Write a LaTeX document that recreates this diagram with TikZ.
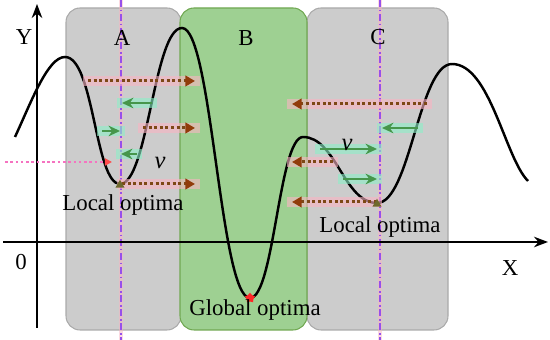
\documentclass[tikz,border=0pt]{standalone}
\usepackage{fontspec}
\setmainfont{Liberation Serif}
\usetikzlibrary{arrows.meta,shapes.geometric}
\definecolor{boxgray}{RGB}{204,204,204}
\definecolor{boxgrayline}{RGB}{170,170,170}
\definecolor{boxgreen}{RGB}{158,208,146}
\definecolor{boxgreenline}{RGB}{112,168,82}
\definecolor{optpurple}{RGB}{150,80,235}
\definecolor{movebrown}{RGB}{125,72,22}
\definecolor{tipbrown}{RGB}{145,60,10}
\definecolor{movegreen}{RGB}{70,150,75}
\definecolor{markpink}{RGB}{250,180,195}
\definecolor{markcyan}{RGB}{140,240,200}
\definecolor{optolive}{RGB}{110,105,45}
\tikzset{
  regionbox/.style={draw, line width=0.6pt, rounded corners=8pt},
  optline/.style={optpurple, line width=0.8pt, dash pattern=on 4pt off 1.5pt on 1pt off 1.5pt,
    preaction={draw=markpink, solid, line width=2.5pt, opacity=0.5}},
  brownmove/.style={movebrown, line width=1.7pt, dash pattern=on 1.7pt off 1.5pt,
    -{Triangle[length=5.5pt,width=6pt,color=tipbrown]},
    preaction={draw=markpink, -, solid, line cap=rect, line width=5.5pt, opacity=0.6}},
  greenmove/.style={movegreen, line width=1.4pt, -{Stealth[length=6.5pt,width=6pt]},
    preaction={draw=markcyan, -, line cap=rect, line width=5.5pt, opacity=0.6}},
  axisline/.style={line width=1.1pt, -{Stealth[length=8pt,width=6pt]}},
  optmark/.style={regular polygon, regular polygon sides=3, fill=optolive, inner sep=0pt, minimum size=6pt}
}
\begin{document}
\begin{tikzpicture}[x=0.02cm, y=0.02cm, font=\fontsize{13}{15}\selectfont]
    \useasboundingbox (0,0) rectangle (550,340);

    % regions
    \draw[regionbox, fill=boxgray, draw=boxgrayline] (66,10) rectangle (181,332);
    \draw[regionbox, fill=boxgray, draw=boxgrayline] (307,10) rectangle (448,332);
    \draw[regionbox, fill=boxgreen, draw=boxgreenline] (180,10) rectangle (307,332);

    % lines through the local optima
    \coordinate (topA) at (121,340);
    \coordinate (botA) at (121,0);
    \coordinate (topC) at (380,340);
    \coordinate (botC) at (380,0);
    \draw[optline] (topA) -- (botA);
    \draw[optline] (topC) -- (botC);

    % axes
    \coordinate (ylow) at (37,12);
    \coordinate (yhigh) at (37,336);
    \coordinate (xlow) at (3,98);
    \coordinate (xhigh) at (548,98);
    \draw[axisline] (ylow) -- (yhigh);
    \draw[axisline] (xlow) -- (xhigh);

    % fitness curve
    \draw[line width=1.4pt] (15,203) .. controls (32,240) and (48,283) .. (65,283)
        .. controls (94,283) and (95,156) .. (120,156)
        .. controls (148,156) and (154,312) .. (182,312)
        .. controls (212,312) and (220,42) .. (250,42)
        .. controls (274,42) and (279,203) .. (303,203)
        .. controls (336,203) and (344,137) .. (377,137)
        .. controls (410,137) and (419,276) .. (452,276)
        .. controls (490,276) and (505,182) .. (528,159);

    % moves towards B
    \foreach \n/\xs/\xe/\yy in {1/88/195/259, 2/143/195/212, 3/122/195/156,
                                4/427/292/236, 5/333/292/178, 6/377/292/138} {
        \coordinate (bs\n) at (\xs,\yy);
        \coordinate (be\n) at (\xe,\yy);
        \draw[brownmove] (bs\n) -- (be\n);
    }
    % moves inside A and C
    \foreach \n/\xs/\xe/\yy in {1/152/122/237, 2/102/120/209, 3/137/121/186,
                                4/418/382/212, 5/320/377/191, 6/343/377/161} {
        \coordinate (gs\n) at (\xs,\yy);
        \coordinate (ge\n) at (\xe,\yy);
        \draw[greenmove] (gs\n) -- (ge\n);
    }
    \coordinate (ps) at (5,178);
    \coordinate (pe) at (112,178);
    \draw[magenta!55, line width=1.3pt, dash pattern=on 1.5pt off 1.5pt,
        -{Triangle[length=4pt,width=4pt,color=red!70]}] (ps) -- (pe);

    % optima
    \node[optmark] (optA) at (120,155) {};
    \node[optmark] (optC) at (377,136) {};
    \node[star, star points=5, fill=red!85, inner sep=0pt, minimum size=6pt] (optB) at (250,42) {};

    % labels
    \node (labY) at (24,303) {Y};
    \node (labA) at (122,302) {A};
    \node (labB) at (246,302) {B};
    \node (labC) at (378,303) {C};
    \node (lab0) at (21,78) {0};
    \node (labX) at (510,72) {X};
    \node (locA) at (123,135) {Local optima};
    \node (locC) at (380,113) {Local optima};
    \node (glob) at (255,30) {Global optima};
    \node[font=\fontsize{14}{16}\selectfont\itshape] (vA) at (160,177) {v};
    \node[font=\fontsize{14}{16}\selectfont\itshape] (vC) at (347,195) {v};
\end{tikzpicture}
\end{document}
